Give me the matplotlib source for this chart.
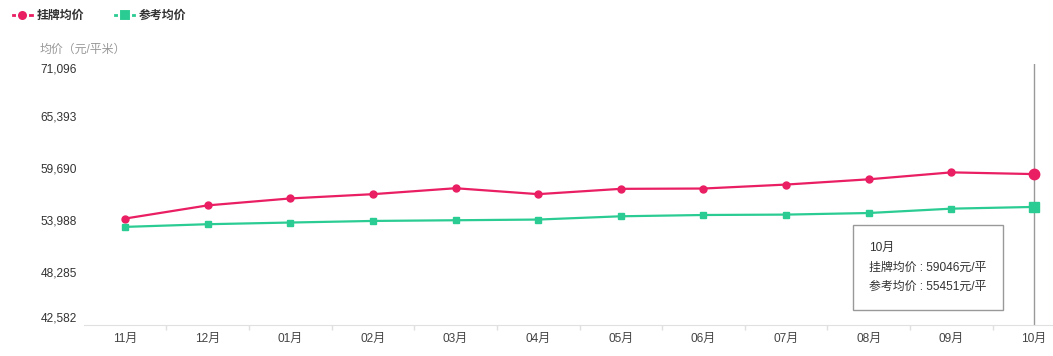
import numpy as np
import matplotlib
matplotlib.use("Agg")
import matplotlib.pyplot as plt
from matplotlib.lines import Line2D
from matplotlib.patches import Rectangle

# Arial-like digits, CJK glyphs from Noto
plt.rcParams['font.family'] = ['Liberation Sans', 'Noto Sans CJK SC', 'DejaVu Sans']

months = ['11月', '12月', '01月', '02月', '03月', '04月',
          '05月', '06月', '07月', '08月', '09月', '10月']
listing_avg = [54177, 55620, 56380, 56847, 57498, 56850,
               57432, 57465, 57899, 58474, 59234, 59046]
reference_avg = [53266, 53559, 53743, 53917, 53993, 54069,
                 54427, 54568, 54611, 54785, 55262, 55451]
y_ticks = [42582, 48285, 53988, 59690, 65393, 71096]

RED = '#e91e63'
GREEN = '#2bcc93'
W, H = 1053, 356

fig = plt.figure(figsize=(W / 100, H / 100), dpi=100)
# axes runs past the right edge, like the original (last slot is cut off)
ax = fig.add_axes([83.7 / W, 31.5 / H, 991.6 / W, 260.5 / H])

x = np.arange(len(months))
ax.plot(x, listing_avg, color=RED, lw=1.6, marker='o', ms=5, zorder=3)
ax.plot(x, reference_avg, color=GREEN, lw=1.6, marker='s', ms=5, zorder=3)
# hovered point is drawn larger
ax.plot(x[-1], listing_avg[-1], 'o', color=RED, ms=7.5, zorder=4)
ax.plot(x[-1], reference_avg[-1], 's', color=GREEN, ms=7, zorder=4)
ax.axvline(x[-1], color='#999999', lw=1, zorder=2)

ax.set_xlim(-0.5, len(months) - 0.5)
ax.set_ylim(y_ticks[0], y_ticks[-1])

ax.set_yticks(y_ticks, [f'{v:,}' for v in y_ticks])
ax.tick_params(axis='y', length=0, pad=5, labelsize=8.6, labelcolor='#333333')
labels = ax.get_yticklabels()
labels[0].set_va('bottom')
labels[-1].set_va('top')

ax.set_xticks(x, months)
ax.set_xticks(x[:-1] + 0.5, minor=True)
ax.tick_params(axis='x', which='major', length=0, pad=6, labelsize=8.6,
               labelcolor='#444444')
ax.tick_params(axis='x', which='minor', length=3.6, color='#e0e0e0', width=1)

for s in ['top', 'right', 'left']:
    ax.spines[s].set_visible(False)
ax.spines['bottom'].set_color('#e0e0e0')

fig.text(40 / W, 1 - 50 / H, '均价（元/平米）', color='#999999', fontsize=8.6,
         va='center', ha='left')

handles = [
    Line2D([], [], color=RED, lw=2, marker='o', ms=8, mec='white', mew=1.5),
    Line2D([], [], color=GREEN, lw=2, marker='s', ms=8, mec='white', mew=1.5),
]
fig.legend(handles, ['挂牌均价', '参考均价'], loc='center left',
           bbox_to_anchor=(2 / W, 1 - 16 / H), ncol=2, frameon=False,
           handlelength=1.6, handletextpad=0.4, columnspacing=2.6,
           prop={'size': 8.6, 'weight': 'bold'}, labelcolor='#333333')

# tooltip
fig.patches.append(Rectangle((853 / W, 1 - 310 / H), 150 / W, 85 / H,
                             transform=fig.transFigure, facecolor='white',
                             edgecolor='#999999', lw=1, zorder=5))
tip_lines = [months[-1],
             f'挂牌均价 : {listing_avg[-1]}元/平',
             f'参考均价 : {reference_avg[-1]}元/平']
for i, t in enumerate(tip_lines):
    fig.text(869 / W, 1 - (248 + 19.5 * i) / H, t, fontsize=8.6,
             color='#333333', va='center', ha='left', zorder=6)

fig.savefig('out.png', dpi=100)
